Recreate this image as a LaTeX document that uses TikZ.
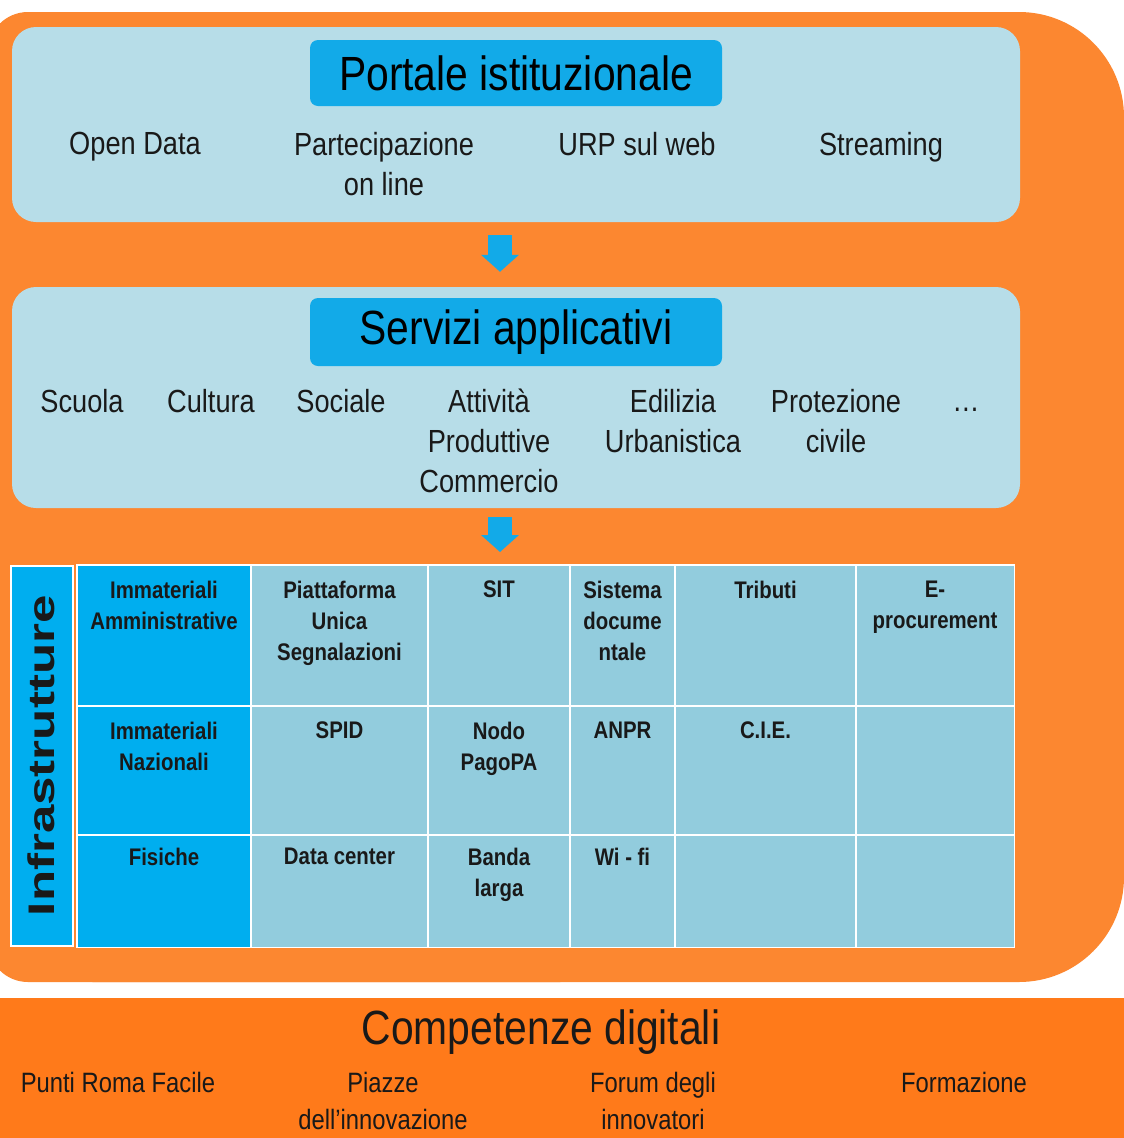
\documentclass[tikz,border=0pt]{standalone}
\usepackage{fontspec}
\setmainfont{Liberation Sans}
\newfontfamily\cond[FakeStretch=0.85]{Liberation Sans}
\newfontfamily\wide[FakeStretch=1.38]{Liberation Sans}
\usetikzlibrary{positioning,arrows.meta,calc}
\definecolor{bigorange}{HTML}{FC8730}
\definecolor{bandorange}{HTML}{FF7A1A}
\definecolor{panelblue}{HTML}{B7DDE8}
\definecolor{titleblue}{HTML}{12AAE8}
\definecolor{cellblue}{HTML}{92CCDD}
\definecolor{headblue}{HTML}{00AEEF}
\tikzset{
  panel/.style={fill=panelblue,rounded corners=24pt,inner sep=0pt,minimum width=1008pt},
  titlebox/.style={fill=titleblue,rounded corners=8pt,inner sep=0pt,minimum width=412pt,font=\cond\fontsize{48}{48}\selectfont},
  item/.style={anchor=north,align=center,inner sep=0pt,text=black!90,font=\cond\fontsize{32}{40}\selectfont},
  cell/.style={anchor=north,align=center,inner sep=0pt,text=black!90,font=\cond\bfseries\fontsize{24}{31}\selectfont},
  foot/.style={anchor=north,align=center,inner sep=0pt,text=black!90,font=\cond\fontsize{28}{37}\selectfont},
  flow/.style={draw=titleblue,line width=24pt,-{Triangle[width=37pt,length=17pt]}},
  gridline/.style={draw=white,line width=1.5pt}
}
\begin{document}
\begin{tikzpicture}[x=1pt,y=-1pt]
\clip (0,0) rectangle (1124,1138);
\fill[white] (0,0) rectangle (1124,1138);
\fill[bigorange,rounded corners=105pt] (-12,12) rectangle (1124,982);
\fill[bigorange,rounded corners=40pt] (-12,12) rectangle (600,982);
\fill[bandorange] (0,998) rectangle (1124,1138);
\coordinate (ax) at (500,0);

\node[panel,minimum height=195pt] (portal) at (516,124.5) {};
\node[titlebox,minimum height=66pt,below=13pt of portal.north] (portaltitle) {Portale istituzionale};
\node[item] (opendata) at (135,132) {Open Data};
\node[item] (partecip) at (384,132) {Partecipazione\\on line};
\node[item] (urp) at (637,132) {URP sul web};
\node[item] (streaming) at (881,132) {Streaming};

\node[panel,minimum height=221pt] (servizi) at (516,397.5) {};
\node[titlebox,minimum height=68pt,below=11pt of servizi.north] (servizititle) {Servizi applicativi};
\node[item] (scuola) at (82,389) {Scuola};
\node[item] (cultura) at (211,389) {Cultura};
\node[item] (sociale) at (341,389) {Sociale};
\node[item] (attivita) at (489,389) {Attività\\Produttive\\Commercio};
\node[item] (edilizia) at (673,389) {Edilizia\\Urbanistica};
\node[item] (protezione) at (836,389) {Protezione\\civile};
\node[item] (altro) at (966,389) {\vphantom{S}\dots};

\node[fill=cellblue,inner sep=0pt,minimum width=937pt,minimum height=382pt,anchor=north west] (grid) at (77,565) {};
\fill[headblue] (77,565) rectangle (251,947);
\foreach \x in {251,428,570,675,856}
  \draw[gridline] (\x,565) -- (\x,947);
\foreach \y in {706,835}
  \draw[gridline] (77,\y) -- (1014,\y);
\draw[gridline] (grid.north west) rectangle (grid.south east);
\node[fill=headblue,draw=white,line width=1.5pt,inner sep=0pt,minimum width=62pt,minimum height=380pt,anchor=north west] (infra) at (10,565) {};
\node[rotate=90,inner sep=0pt,text=black!90,font=\wide\bfseries\fontsize{37}{37}\selectfont] (infratext) at (infra.center) {Infrastrutture};
\foreach \x/\y/\t [count=\i] in {164/581/{Immateriali\\Amministrative}, 339.5/581/{Piattaforma\\Unica\\Segnalazioni},
    499/581/SIT, 622.5/581/{Sistema\\docume\\ntale}, 765.5/581/Tributi, 935/581/{E-\\procurement},
    164/722/{Immateriali\\Nazionali}, 339.5/722/SPID, 499/722/{Nodo\\PagoPA}, 622.5/722/ANPR, 765.5/722/C.I.E.,
    164/848/Fisiche, 339.5/848/Data center, 499/848/{Banda\\larga}, 622.5/848/Wi - fi}
  \node[cell] (cell\i) at (\x,\y) {\t};

\draw[flow] ($(portal.south -| ax)+(0,13)$) -- ($(servizi.north -| ax)+(0,-15)$);
\draw[flow] ($(servizi.south -| ax)+(0,9)$) -- ($(grid.north -| ax)+(0,-13)$);

\node[inner sep=0pt,text=black!90,font=\cond\fontsize{48}{48}\selectfont] (competenze) at (541,1032) {Competenze digitali};
\node[foot] (punti) at (118,1072) {Punti Roma Facile};
\node[foot] (piazze) at (383,1072) {Piazze\\dell’innovazione};
\node[foot] (forum) at (653,1072) {Forum degli\\innovatori};
\node[foot] (formazione) at (964,1072) {Formazione};
\end{tikzpicture}
\end{document}
